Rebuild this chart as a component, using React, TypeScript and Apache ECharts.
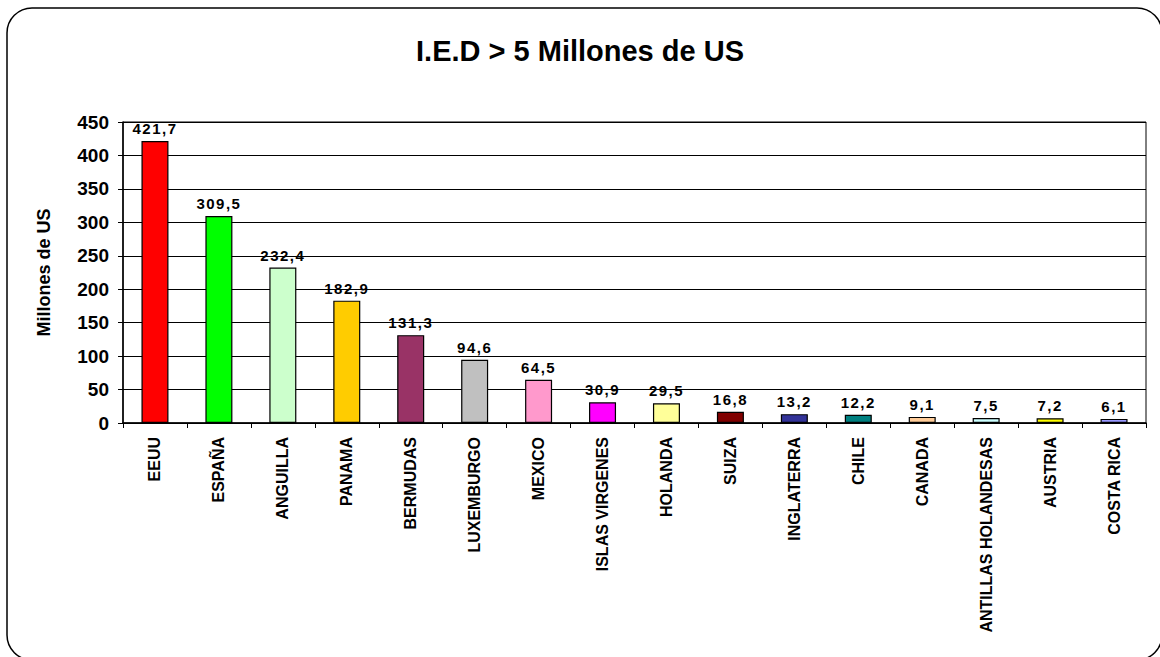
import React, { useEffect, useRef } from "react";
import * as echarts from "echarts";

const categories = [
  "EEUU", "ESPAÑA", "ANGUILLA", "PANAMA", "BERMUDAS", "LUXEMBURGO", "MEXICO",
  "ISLAS VIRGENES", "HOLANDA", "SUIZA", "INGLATERRA", "CHILE", "CANADA",
  "ANTILLAS HOLANDESAS", "AUSTRIA", "COSTA RICA",
];
const values = [421.7, 309.5, 232.4, 182.9, 131.3, 94.6, 64.5, 30.9, 29.5, 16.8, 13.2, 12.2, 9.1, 7.5, 7.2, 6.1];
const barColors = [
  "#FF0000", "#00FF00", "#CCFFCC", "#FFCC00", "#993366", "#C0C0C0", "#FF99CC",
  "#FF00FF", "#FFFF99", "#800000", "#333399", "#008080", "#FFCC99", "#CCFFFF",
  "#FFFF00", "#9999FF",
];
const yTicks = [0, 50, 100, 150, 200, 250, 300, 350, 400, 450];

const FONT = "'Liberation Sans', Arial, sans-serif";

export default function App() {
  const ref = useRef<HTMLDivElement>(null);
  useEffect(() => {
    if (!ref.current) return;
    const chart = echarts.init(ref.current, undefined, { renderer: "svg" });
    chart.setOption({
      animation: false,
      backgroundColor: "#ffffff",
      title: {
        text: "I.E.D > 5 Millones de US",
        left: "center",
        top: 31,
        textStyle: { fontFamily: FONT, fontWeight: "bold", fontSize: 29, color: "#000" },
      },
      graphic: [
        {
          type: "rect",
          shape: { x: 7, y: 8, width: 1155, height: 652, r: 25 },
          style: { fill: "none", stroke: "#000", lineWidth: 1.5 },
          silent: true,
        },
      ],
      grid: {
        left: 123,
        right: 14,
        top: 122,
        bottom: 234,
        show: true,
        borderColor: "#000",
        borderWidth: 1,
      },
      xAxis: {
        type: "category",
        data: categories,
        axisLine: { lineStyle: { color: "#000", width: 1.5 } },
        axisTick: { show: true, alignWithLabel: false, length: 5, lineStyle: { color: "#000" } },
        axisLabel: {
          rotate: 90,
          interval: 0,
          margin: 14,
          fontFamily: FONT,
          fontWeight: "bold",
          fontSize: 16,
          color: "#000",
        },
      },
      yAxis: {
        type: "value",
        min: yTicks[0],
        max: yTicks[yTicks.length - 1],
        interval: 50,
        name: "Millones de US",
        nameLocation: "middle",
        nameGap: 70,
        nameTextStyle: { fontFamily: FONT, fontWeight: "bold", fontSize: 18, color: "#000" },
        axisLine: { show: true, lineStyle: { color: "#000", width: 1.5 } },
        axisTick: { show: true, length: 5, lineStyle: { color: "#000" } },
        axisLabel: { fontFamily: FONT, fontWeight: "bold", fontSize: 19, color: "#000", margin: 14 },
        splitLine: { show: true, lineStyle: { color: "#000", width: 1 } },
      },
      series: [
        {
          type: "bar",
          data: values.map((v, i) => ({ value: v, itemStyle: { color: barColors[i] } })),
          barWidth: 27,
          itemStyle: { borderColor: "#000", borderWidth: 1.2 },
          label: {
            show: true,
            position: "top",
            distance: 5,
            fontFamily: FONT,
            fontWeight: "bold",
            fontSize: 15,
            color: "#000",
            formatter: (p: any) => Number(p.value).toFixed(1).replace(".", ","),
          },
        },
      ],
    });
    ref.current.querySelectorAll("text").forEach((t) => {
      if (/^\d+,\d$/.test(t.textContent || "")) {
        (t as SVGTextElement).style.letterSpacing = "1.5px";
      }
    });
    return () => chart.dispose();
  }, []);
  return (
    <div
      ref={ref}
      style={{ position: "fixed", left: 0, top: 0, width: 1160, height: 657 }}
    />
  );
}
